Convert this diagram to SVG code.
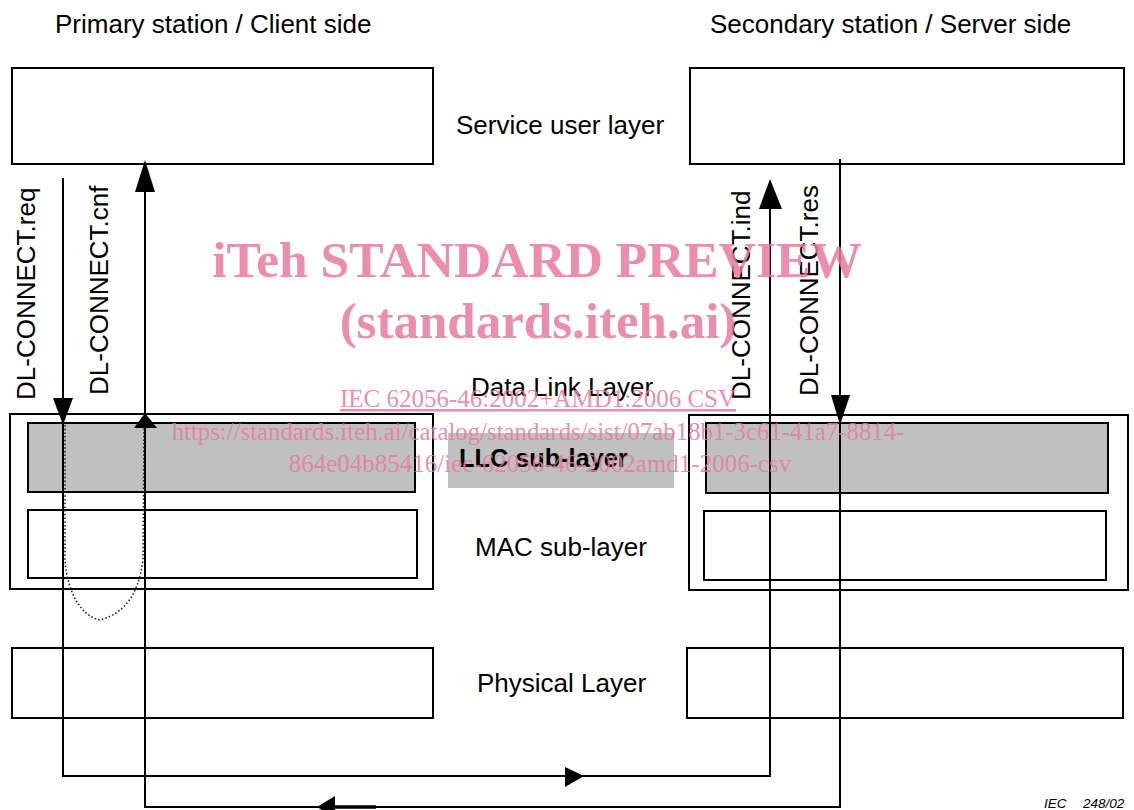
<svg xmlns="http://www.w3.org/2000/svg" width="1134" height="810" viewBox="0 0 1134 810">
<style>
.box{fill:#fff;stroke:#000;stroke-width:2}
.llc{fill:#c0c0c0;stroke:#000;stroke-width:2}
.t{font-family:"Liberation Sans",Arial,sans-serif;font-size:26px;fill:#000}
.tb{font-family:"Liberation Sans",Arial,sans-serif;font-size:25.3px;font-weight:bold;fill:#000}
.ln{fill:none;stroke:#000;stroke-width:2}
.ah{fill:#000}
.wm{font-family:"Liberation Serif","Times New Roman",serif;fill:#e9799f;fill-opacity:0.85;text-anchor:middle}
</style>
<rect width="1134" height="810" fill="#fff"/>
<g id="headers">
<text class="t" x="55" y="33">Primary station / Client side</text>
<text class="t" x="710" y="33">Secondary station / Server side</text>
</g>
<g id="service-user-left"><rect class="box" x="12" y="68" width="421" height="96"/></g>
<g id="service-user-right"><rect class="box" x="690" y="68" width="434" height="96"/></g>
<g id="service-user-label"><text class="t" x="456" y="134">Service user layer</text></g>
<g id="dll-left">
<rect class="box" x="10" y="414" width="423" height="175"/>
<rect class="llc" x="28" y="423" width="387" height="69"/>
<rect class="box" x="28" y="510" width="389" height="68"/>
</g>
<g id="dll-right">
<rect class="box" x="689" y="415" width="439" height="175"/>
<rect class="llc" x="706" y="423" width="402" height="70"/>
<rect class="box" x="704" y="511" width="402" height="69"/>
</g>
<g id="dll-label"><text class="t" x="471" y="396">Data Link Layer</text></g>
<g id="llc-label">
<rect x="448" y="433" width="226" height="55" fill="#c0c0c0"/>
<text class="tb" x="459" y="467">LLC sub-layer</text>
</g>
<g id="mac-label"><text class="t" x="475" y="556">MAC sub-layer</text></g>
<g id="phy-left"><rect class="box" x="12" y="648" width="421" height="70"/></g>
<g id="phy-right"><rect class="box" x="687" y="648" width="436" height="70"/></g>
<g id="phy-label"><text class="t" x="477" y="692">Physical Layer</text></g>
<g id="connectors">
<polyline class="ln" points="63,178 63,776 770,776 770,195"/>
<polygon class="ah" points="53,398 73,398 63,425"/>
<polygon class="ah" points="565,767 565,787 584,776"/>
<polygon class="ah" points="759,209 782,209 770,179"/>
<polyline class="ln" points="840,159 840,807 145,807 145,180"/>
<polygon class="ah" points="831,395 850,395 840,425"/>
<polygon class="ah" points="317,807 335,796 335,818"/>
<line x1="334" y1="807" x2="376" y2="807" stroke="#000" stroke-width="3.5"/>
<polygon class="ah" points="135,192 155,192 145,160"/>
<path d="M65,425 L65,560 C67,590 80,616 100,620 C122,614 138,598 143,560 L144,428" fill="none" stroke="#222" stroke-width="1.6" stroke-dasharray="1.5 2.2"/>
<polygon class="ah" points="134,428 157,428 145,413"/>
</g>
<g id="primitive-labels">
<text class="t" transform="translate(35,400) rotate(-90)">DL-CONNECT.req</text>
<text class="t" transform="translate(108,395) rotate(-90)">DL-CONNECT.cnf</text>
<text class="t" transform="translate(750,400) rotate(-90)">DL-CONNECT.ind</text>
<text class="t" transform="translate(818,396) rotate(-90)">DL-CONNECT.res</text>
</g>
<g id="figure-id">
<text font-family="'Liberation Sans',Arial,sans-serif" font-size="13.5" font-style="italic" fill="#000" x="1044" y="808">IEC<tspan x="1083">248/02</tspan></text>
</g>
<g id="watermark">
<text class="wm" x="537" y="277" font-size="51.5" font-weight="bold">iTeh STANDARD PREVIEW</text>
<text class="wm" x="538" y="338" font-size="51" font-weight="bold">(standards.iteh.ai)</text>
<text class="wm" x="538" y="407" font-size="25" text-decoration="underline">IEC 62056-46:2002+AMD1:2006 CSV</text>
<text class="wm" x="538" y="440" font-size="24.8">https://standards.iteh.ai/catalog/standards/sist/07ab18b1-3c61-41a7-8814-</text>
<text class="wm" x="540" y="472" font-size="25">864e04b85416/iec-62056-46-2002amd1-2006-csv</text>
</g>
</svg>
